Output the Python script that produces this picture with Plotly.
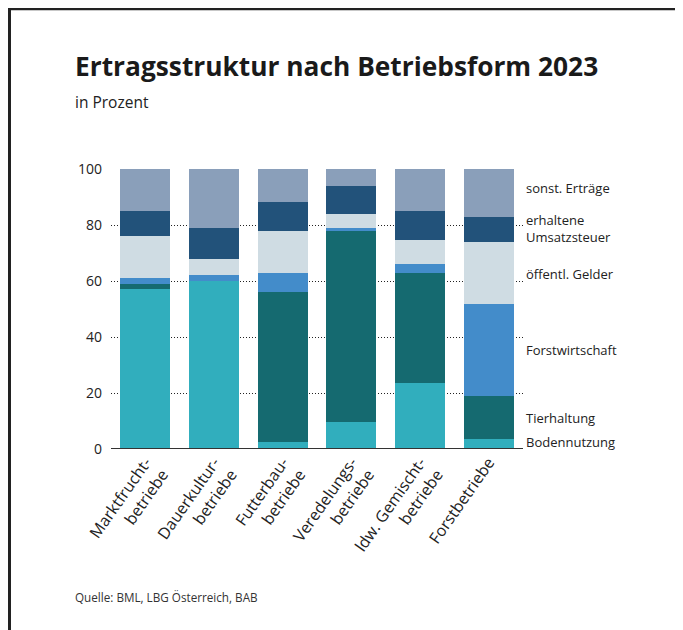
import plotly.graph_objects as go

categories = ["Marktfrucht-<br>betriebe", "Dauerkultur-<br>betriebe", "Futterbau-<br>betriebe",
              "Veredelungs-<br>betriebe", "ldw. Gemischt-<br>betriebe", "Forstbetriebe"]
series_names = ["Bodennutzung", "Tierhaltung", "Forstwirtschaft", "öffentl. Gelder",
                "erhaltene Umsatzsteuer", "sonst. Erträge"]
legend_labels = ["Bodennutzung", "Tierhaltung", "Forstwirtschaft", "öffentl. Gelder",
                 "erhaltene<br>Umsatzsteuer", "sonst. Erträge"]
bodennutzung = [57.0, 60.0, 2.4, 9.6, 23.5, 3.5]
tierhaltung = [2.0, 0.0, 53.7, 68.3, 39.4, 15.4]
forstwirtschaft = [2.0, 2.0, 6.8, 1.1, 3.2, 32.9]
oeffentl_gelder = [15.0, 6.0, 15.0, 5.0, 8.7, 22.2]
umsatzsteuer = [9.0, 11.0, 10.4, 10.0, 10.3, 9.0]
sonst_ertraege = [15.0, 21.0, 11.7, 6.0, 14.9, 17.0]
y_ticks = [0, 20, 40, 60, 80, 100]

values = [bodennutzung, tierhaltung, forstwirtschaft, oeffentl_gelder, umsatzsteuer, sonst_ertraege]
colors = ["#31AEBD", "#156A70", "#438CCA", "#CFDCE3", "#22527A", "#8A9FBA"]

FONT = "Open Sans"
OFF = 8  # page body margin
W, H = 675, 622
L, R, T, B = 111 - OFF, 160, 169.3 - OFF, 622 - (448.7 - OFF)

fig = go.Figure()
for name, vals, col in zip(series_names, values, colors):
    fig.add_trace(go.Bar(x=categories, y=vals, name=name, marker_color=col,
                         marker_line_width=0, showlegend=False))

pw = W - L - R
ph = H - T - B
def px(xp):
    return (xp - OFF - L) / pw
def py(yp):
    return (H - B - (yp - OFF)) / ph

# labels at right, aligned with the last bar's segments
cum = 0
label_shift = [2, 0, 0, -1, 1, 5]
for lab, vals, sh in zip(legend_labels, values, label_shift):
    v = vals[-1]
    mid = cum + v / 2
    cum += v
    fig.add_annotation(x=px(524), xref="paper", y=mid, yref="y", yshift=sh,
                       text=lab, showarrow=False, xanchor="left", yanchor="middle", align="left",
                       font=dict(family=FONT, size=13, color="#222"))

fig.add_annotation(x=px(73), y=py(67), xref="paper", yref="paper", text="<b>Ertragsstruktur nach Betriebsform 2023</b>",
                   showarrow=False, xanchor="left", yanchor="middle",
                   font=dict(family=FONT, size=26.3, color="#1a1a1a"))
fig.add_annotation(x=px(73), y=py(102), xref="paper", yref="paper", text="in Prozent",
                   showarrow=False, xanchor="left", yanchor="middle",
                   font=dict(family=FONT, size=15.5, color="#222"))
fig.add_annotation(x=px(73), y=py(596), xref="paper", yref="paper", text="Quelle: BML, LBG Österreich, BAB",
                   showarrow=False, xanchor="left", yanchor="middle",
                   font=dict(family=FONT, size=11.7, color="#333"))

# frame
fig.add_shape(type="line", xref="paper", yref="paper", x0=px(9.5), x1=px(W + 20), y0=py(9.5), y1=py(9.5),
              line=dict(color="#222", width=3))
fig.add_shape(type="line", xref="paper", yref="paper", x0=px(9.5), x1=px(9.5), y0=py(8), y1=py(H + 30),
              line=dict(color="#222", width=3))
# zero line
fig.add_shape(type="line", xref="paper", yref="y", x0=0, x1=1, y0=0, y1=0,
              line=dict(color="#333", width=2))

fig.update_layout(
    width=W, height=H, margin=dict(l=L, r=R, t=T, b=B, autoexpand=False),
    barmode="stack", bargap=0.27,
    plot_bgcolor="white", paper_bgcolor="white",
    font=dict(family=FONT, size=14, color="#222"),
    xaxis=dict(tickangle=-55, showgrid=False, showline=False, ticks="",
               tickfont=dict(family=FONT, size=16, color="#222")),
    yaxis=dict(range=[0, 100], tickvals=y_ticks, showgrid=True, gridcolor="#222", griddash="1px,2px",
               gridwidth=1, zeroline=False, showline=False, ticks="", ticklabelstandoff=8,
               tickfont=dict(family=FONT, size=14, color="#222")),
)

fig.write_html("out.html")
